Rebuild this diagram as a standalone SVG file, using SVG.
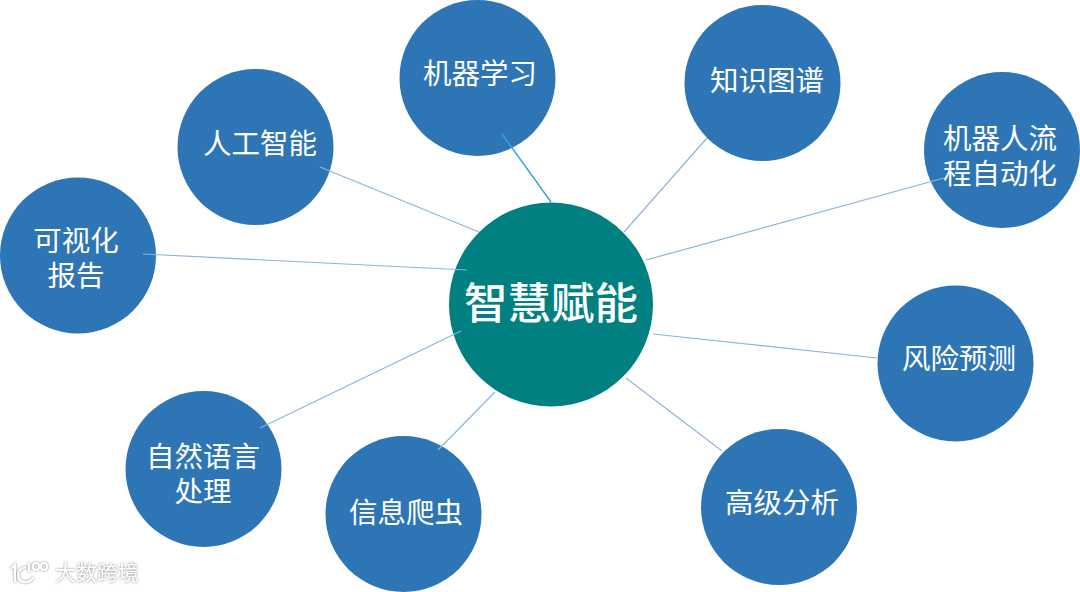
<svg xmlns="http://www.w3.org/2000/svg" width="1080" height="592" viewBox="0 0 1080 592">
<style>
.n{fill:#2e75b6}
.c{fill:#008080}
.t{font-family:"Noto Sans CJK SC","Noto Sans",sans-serif;font-size:28.5px;fill:#fff;text-anchor:middle}
.h{font-size:43.5px;font-weight:500}
.l{stroke:#8fb4dc;stroke-width:1.2;fill:none}
.w{font-family:"Noto Sans CJK SC",sans-serif;font-size:21px;fill:#fff}
.wl{fill:none;stroke:#fff;stroke-width:2.2}
</style>
<defs><filter id="glow" x="-20%" y="-40%" width="140%" height="180%"><feDropShadow dx="0" dy="0" stdDeviation="1.3" flood-color="#777" flood-opacity="1"/></filter></defs>
<rect width="1080" height="592" fill="#fff"/>
<g id="n-ml"><circle class="n" cx="477.500" cy="78" r="78"/><text class="t" x="480" y="84">机器学习</text></g>
<g id="n-ai"><circle class="n" cx="255.500" cy="147" r="78"/><text class="t" x="260" y="154">人工智能</text></g>
<g id="n-kg"><circle class="n" cx="762.500" cy="83" r="78"/><text class="t" x="767" y="91">知识图谱</text></g>
<g id="n-rpa"><circle class="n" cx="1002" cy="150" r="78"/><text class="t" x="1000" y="149">机器人流<tspan x="1000" dy="35">程自动化</tspan></text></g>
<g id="n-vis"><circle class="n" cx="78" cy="255.500" r="78"/><text class="t" x="76" y="251">可视化<tspan x="76" dy="35">报告</tspan></text></g>
<g id="n-risk"><circle class="n" cx="955.500" cy="363.500" r="78"/><text class="t" x="959" y="369">风险预测</text></g>
<g id="n-nlp"><circle class="n" cx="203.500" cy="469" r="78"/><text class="t" x="203" y="467">自然语言<tspan x="203" dy="35">处理</tspan></text></g>
<g id="n-crawl"><circle class="n" cx="403.500" cy="514" r="78"/><text class="t" x="406" y="523">信息爬虫</text></g>
<g id="n-adv"><circle class="n" cx="779" cy="507" r="78"/><text class="t" x="782" y="513">高级分析</text></g>
<g id="n-center"><circle class="c" cx="551" cy="304.500" r="102"/><text class="t h" x="551" y="319">智慧赋能</text></g>
<g id="connectors">
<line x1="502" y1="134" x2="551" y2="202" stroke="#2ea6d8" stroke-width="1.5"/>
<line class="l" x1="320" y1="167" x2="479" y2="232"/>
<line class="l" x1="707" y1="138" x2="624" y2="232"/>
<line class="l" x1="944" y1="178" x2="646" y2="260"/>
<line class="l" x1="143" y1="254" x2="467" y2="270"/>
<line class="l" x1="877" y1="358" x2="653" y2="334"/>
<line class="l" x1="260" y1="428" x2="461" y2="331"/>
<line class="l" x1="438" y1="450" x2="495" y2="392"/>
<line class="l" x1="722" y1="451" x2="626" y2="378"/>
</g>
<g id="watermark" filter="url(#glow)">
<path class="wl" d="M11 569 L15 565 L15 582 M26 567 Q18 569 18 575 Q19 583 27 582 Q32 581 33 577 M29 563 L29 572"/>
<ellipse class="wl" cx="36" cy="566.500" rx="3.200" ry="3.500" stroke-width="1.600"/>
<ellipse class="wl" cx="44" cy="566.500" rx="3.200" ry="3.500" stroke-width="1.600"/>
<text class="w" x="55" y="580">大数跨境</text>
</g>
</svg>
